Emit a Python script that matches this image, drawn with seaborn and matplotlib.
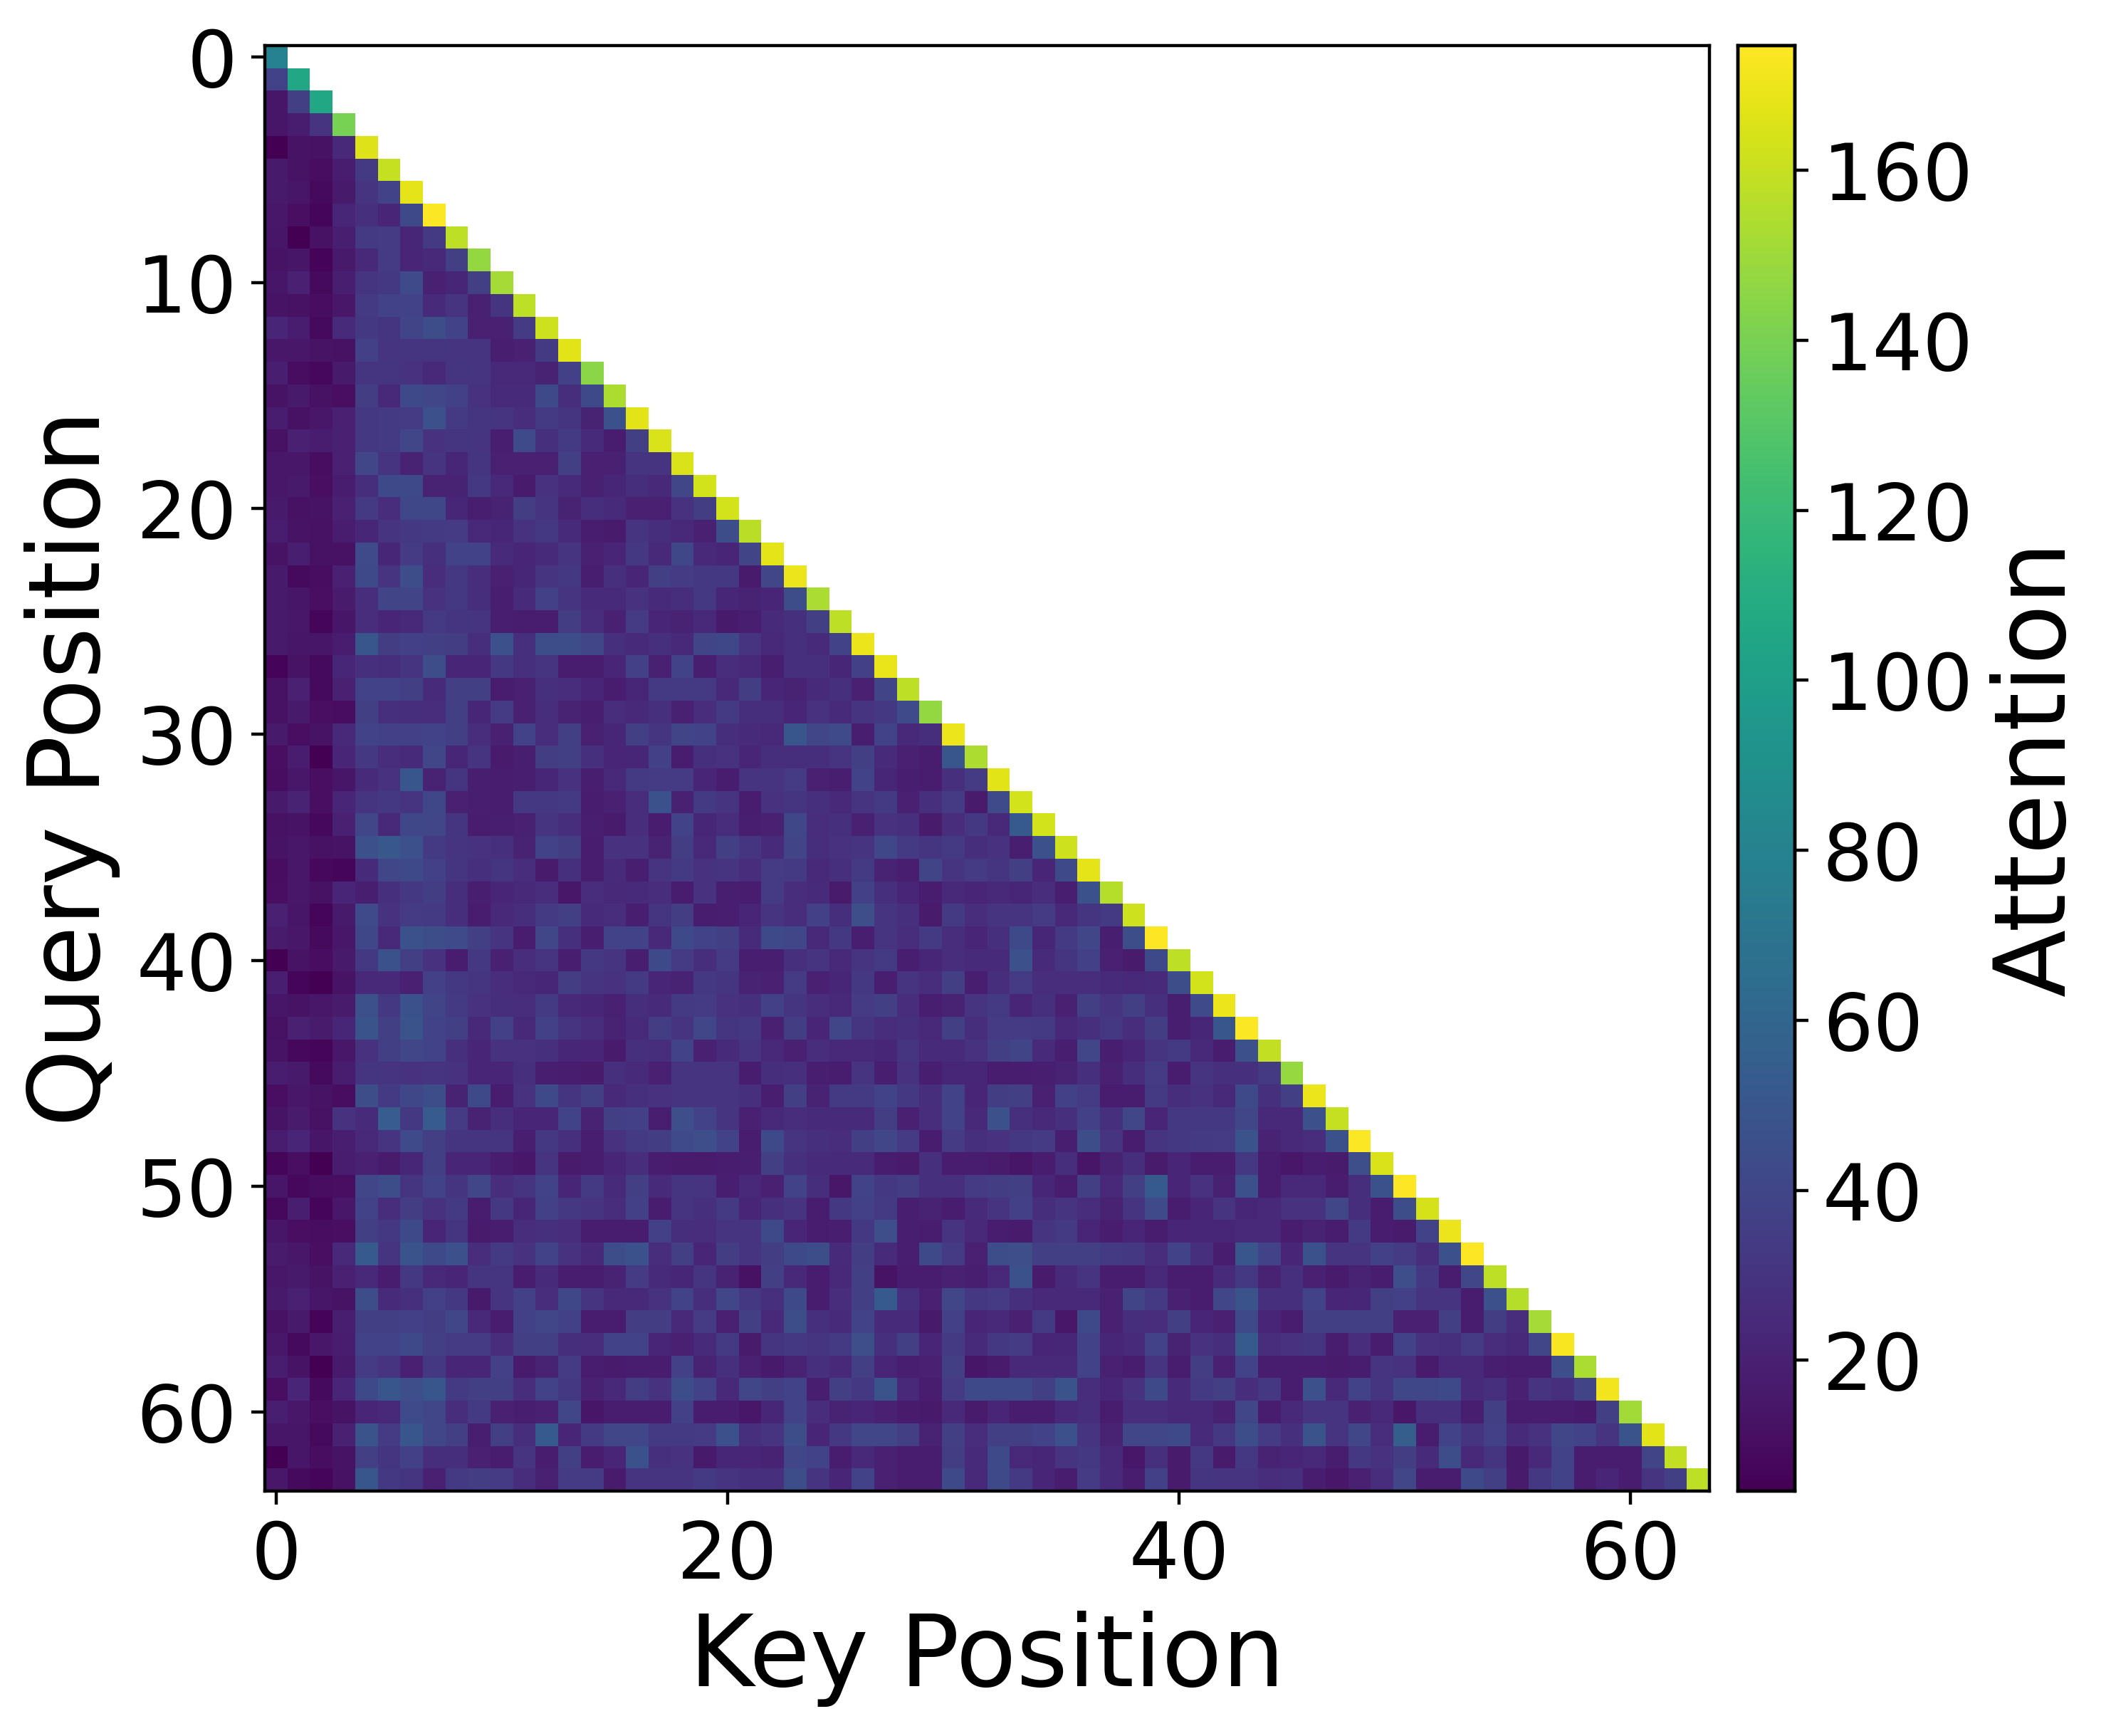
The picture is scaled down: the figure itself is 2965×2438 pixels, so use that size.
import numpy as np
import matplotlib
matplotlib.use("Agg")
import matplotlib.pyplot as plt
import seaborn as sns

x_ticks = [0, 20, 40, 60]
y_ticks = [0, 10, 20, 30, 40, 50, 60]
cbar_ticks = [20, 40, 60, 80, 100, 120, 140, 160]
x_label = "Key Position"
y_label = "Query Position"
cbar_label = "Attention"

rows = [
 [80],
 [38,106],
 [14,36,106],
 [14,18,30,140],
 [5,13,12,24,166],
 [16,13,10,18,33,160],
 [16,14,9,16,30,38,168],
 [15,11,7,23,28,22,42,174],
 [14,5,12,19,33,34,23,33,158],
 [13,14,6,16,24,34,22,24,36,147],
 [14,20,9,19,31,32,43,20,23,36,152],
 [13,12,10,15,33,38,38,25,30,20,31,158],
 [22,18,9,25,32,31,39,44,38,20,20,34,162],
 [15,15,13,12,37,30,31,31,30,30,19,20,33,167],
 [19,10,8,16,31,31,29,24,31,30,24,24,21,37,145],
 [13,16,12,11,35,24,42,40,37,29,25,25,42,27,42,154],
 [18,12,15,20,32,33,34,46,33,31,30,26,33,31,21,47,167],
 [12,20,18,20,32,33,40,29,31,30,19,43,28,33,25,18,36,165],
 [15,15,10,20,40,30,21,30,23,31,20,20,20,36,20,20,30,30,165],
 [15,16,11,18,27,42,42,21,21,32,24,17,29,25,20,23,27,24,40,163],
 [16,12,13,20,33,26,41,41,23,19,21,35,30,21,27,25,20,20,29,35,163],
 [18,13,12,18,23,30,32,33,34,24,23,29,32,25,18,17,30,27,24,20,44,157],
 [13,19,12,12,43,23,34,28,38,38,25,22,25,30,20,22,32,24,41,24,22,39,168],
 [16,9,10,20,42,30,44,26,32,26,20,23,30,32,19,28,22,36,34,32,32,17,40,170],
 [16,14,11,17,26,39,39,29,32,27,19,25,37,30,25,25,29,25,27,32,23,21,22,44,153],
 [16,15,7,14,26,22,24,33,31,30,19,18,18,35,26,20,34,22,21,24,16,19,25,28,36,158],
 [16,14,14,18,50,35,37,36,35,27,46,28,44,44,40,28,25,28,24,39,41,30,24,28,25,38,170],
 [6,13,9,23,28,27,30,44,22,22,32,28,30,18,18,22,37,20,38,19,26,24,19,28,28,23,37,169],
 [12,20,9,20,38,38,36,25,36,36,18,20,28,26,22,18,23,33,33,33,24,35,22,21,25,28,20,39,158],
 [12,16,11,10,36,28,27,26,36,23,34,20,27,21,19,26,24,28,20,26,33,27,27,22,29,25,30,32,43,147],
 [16,11,13,24,38,37,37,38,36,26,20,38,26,36,20,23,36,31,39,38,27,25,24,50,40,43,19,38,24,27,170],
 [11,18,4,22,32,26,25,40,23,30,17,19,35,36,28,22,23,37,18,28,29,22,27,27,27,30,36,25,20,18,50,154],
 [10,15,11,14,25,29,50,21,31,19,18,19,23,29,19,24,33,34,34,22,18,30,30,34,20,19,38,23,19,18,28,34,167],
 [16,21,11,22,31,32,30,41,20,19,18,32,32,33,18,20,26,47,20,33,30,18,29,31,28,24,30,33,20,28,34,17,43,163],
 [12,13,8,20,40,24,41,40,31,18,19,20,30,27,19,17,26,18,38,23,26,19,20,41,26,28,20,29,28,17,26,32,24,52,163],
 [13,15,12,13,46,51,46,33,30,29,28,21,38,35,18,29,29,21,35,24,36,31,25,39,27,29,30,41,33,31,33,27,29,19,46,162],
 [10,15,8,7,25,40,42,37,31,28,31,26,17,28,18,25,19,30,33,29,30,26,34,33,24,28,33,21,19,39,30,34,31,36,22,42,168],
 [11,15,12,22,19,28,32,35,27,19,22,24,26,15,26,24,25,26,18,29,19,18,34,26,25,17,37,28,22,18,24,22,24,23,26,19,47,156],
 [20,14,7,16,43,29,34,33,27,18,24,27,33,36,25,26,19,31,35,18,19,22,30,26,37,27,45,30,28,17,33,26,30,30,34,24,31,33,162],
 [17,15,9,15,41,24,47,44,43,36,30,18,40,28,19,38,38,24,42,38,36,25,42,40,24,32,19,30,26,33,26,22,28,42,23,33,40,19,44,175],
 [5,13,10,16,32,47,36,29,18,32,20,26,30,19,32,30,19,42,34,27,34,19,19,28,30,24,30,33,19,23,26,25,25,46,25,31,37,20,17,42,158],
 [19,7,5,13,24,24,20,37,32,31,26,24,23,35,30,29,33,22,21,32,31,21,20,34,20,23,32,19,30,26,36,19,27,34,26,26,26,25,24,25,44,163],
 [14,13,15,17,46,32,47,39,33,29,27,26,33,24,23,20,27,25,33,34,29,28,37,31,26,24,34,36,26,19,21,30,33,22,28,20,36,30,36,28,19,43,170],
 [12,20,17,23,48,36,48,38,36,24,37,24,37,30,26,21,25,35,30,40,31,32,20,35,22,40,31,26,28,24,36,27,34,34,33,24,28,32,26,35,19,23,50,174],
 [13,8,7,15,29,36,40,38,28,22,29,29,28,23,22,17,28,27,38,20,25,30,24,20,26,24,24,23,31,25,25,29,36,39,25,19,40,19,22,30,33,24,18,46,159],
 [18,16,9,18,31,30,29,30,29,22,22,28,19,18,17,28,25,20,30,30,30,18,27,28,19,18,30,19,29,19,23,23,18,18,19,21,28,20,27,34,18,30,28,28,33,148],
 [11,15,13,10,44,33,41,44,21,42,18,29,42,31,36,24,28,29,30,30,30,28,19,36,21,33,33,38,32,27,38,22,35,36,20,37,34,18,18,33,27,29,24,42,28,36,170],
 [13,17,12,29,25,54,32,53,34,21,27,22,22,38,21,36,37,19,45,38,30,20,24,26,25,25,25,35,20,26,38,24,46,28,24,28,37,28,40,22,32,32,32,40,24,24,46,160],
 [18,22,14,19,24,30,43,36,31,31,31,19,32,28,19,29,33,35,43,45,38,18,42,30,28,26,36,40,34,18,34,28,29,32,34,19,44,30,18,30,32,33,34,48,21,24,26,47,174],
 [7,11,4,18,20,17,23,36,22,22,18,15,30,17,18,22,26,18,17,17,18,19,36,28,25,25,25,18,17,28,18,18,17,14,18,27,14,21,27,17,22,18,18,32,18,15,18,17,45,165],
 [14,8,10,11,40,44,31,38,31,40,26,30,38,22,33,25,36,25,31,30,19,24,20,38,27,15,38,32,35,28,28,34,35,36,23,18,36,24,36,52,22,29,20,46,18,24,24,18,27,47,175],
 [8,19,7,15,38,26,35,29,33,18,32,23,37,32,30,26,37,18,30,28,33,22,28,30,18,32,37,33,19,21,18,25,30,37,27,30,26,21,30,43,18,22,30,23,24,29,29,40,27,18,44,164],
 [14,11,10,11,36,32,42,22,31,17,18,26,28,26,18,18,18,37,27,26,30,30,42,22,18,19,32,45,19,18,30,24,18,17,30,33,22,18,22,18,22,23,23,24,24,18,21,18,33,18,17,38,170],
 [17,15,11,24,52,30,48,42,46,26,33,29,38,29,24,44,47,26,36,22,35,30,35,42,44,25,35,25,19,42,34,20,44,45,36,36,36,33,32,26,38,28,18,50,38,22,47,30,30,37,34,26,46,175],
 [15,16,13,20,24,18,32,24,22,31,31,18,25,18,18,21,34,25,23,31,21,12,36,24,18,24,36,13,18,18,20,19,24,47,17,25,30,18,18,24,18,18,25,32,21,28,20,17,21,18,45,32,18,40,158],
 [16,20,14,13,44,25,28,37,32,16,30,37,26,41,30,24,24,29,38,27,40,32,28,42,18,26,36,52,28,20,40,32,34,28,24,24,24,20,39,33,20,18,40,48,28,28,38,22,23,36,37,30,30,18,46,156],
 [12,16,6,19,36,36,37,35,40,24,18,37,40,37,18,18,35,35,24,34,20,36,24,44,28,25,38,25,25,16,37,22,24,20,33,15,42,20,27,26,36,22,20,42,22,18,36,36,36,36,20,20,36,18,35,26,152],
 [15,9,15,18,38,38,42,36,34,34,26,36,36,27,26,38,38,22,20,25,33,17,31,32,31,33,45,28,36,22,33,25,32,34,22,23,38,23,25,38,21,29,27,52,26,29,31,18,26,18,38,29,28,34,26,24,40,173],
 [18,13,4,16,34,30,20,32,22,22,37,17,21,34,18,17,18,18,37,21,28,20,16,21,28,24,36,22,19,20,36,14,17,24,24,24,38,20,18,30,18,35,20,38,18,18,18,17,18,30,29,17,24,24,19,18,18,45,153],
 [11,22,9,22,42,50,45,50,33,36,36,26,38,32,20,24,35,29,44,38,24,40,36,38,19,36,32,48,24,18,34,42,42,42,36,48,26,22,29,42,25,33,36,26,32,18,46,24,38,31,41,41,42,25,28,20,30,28,39,171],
 [19,15,11,13,22,24,43,40,26,33,20,19,20,40,14,18,18,18,37,18,18,15,23,38,26,21,22,20,17,16,24,17,22,18,18,24,27,18,26,26,24,24,20,40,18,24,30,30,20,24,15,28,28,19,36,18,18,18,16,36,151],
 [14,14,9,20,48,34,50,40,36,19,36,27,52,22,33,40,40,33,33,34,46,28,30,44,22,32,40,40,36,21,36,26,36,36,38,46,30,21,40,40,42,25,32,44,34,28,48,30,40,26,55,18,38,31,37,25,29,40,38,30,48,167],
 [5,14,10,13,36,31,37,27,27,20,18,30,18,36,18,22,47,28,29,16,23,22,21,40,38,18,24,20,18,18,35,25,42,24,23,30,32,24,15,28,17,32,17,32,21,22,24,18,32,29,35,25,44,24,31,16,24,38,18,18,18,39,159],
 [15,9,7,12,50,32,31,20,33,35,34,26,20,34,34,17,30,30,30,33,30,28,28,44,30,22,38,20,18,18,42,24,42,33,22,18,34,25,18,37,17,31,30,30,26,28,18,15,20,26,40,18,18,42,36,17,32,38,18,22,18,30,36,158],
]

bad = [(i, len(r)) for i, r in enumerate(rows) if len(r) != i + 1]
if bad:
    raise ValueError(f"row length mismatch: {bad}")

n = len(rows)
matrix = np.full((n, n), np.nan)
for i, r in enumerate(rows):
    matrix[i, :len(r)] = r

W, H, dpi = 2965, 2438, 400
sns.set_theme(style="white")
plt.rcParams["font.family"] = ["DejaVu Sans"]
plt.rcParams.update({"xtick.bottom": True, "ytick.left": True})
fig = plt.figure(figsize=(W / dpi, H / dpi), dpi=dpi, facecolor="white")
ax = fig.add_axes([372 / W, (H - 2094) / H, 2029 / W, 2030 / H])
cax = fig.add_axes([2441 / W, (H - 2094) / H, 80 / W, 2030 / H])

sns.heatmap(matrix, ax=ax, cbar_ax=cax, cmap="viridis", vmin=4.6, vmax=174.7,
            mask=np.isnan(matrix), square=False, xticklabels=False, yticklabels=False,
            linewidths=0, cbar_kws={"ticks": cbar_ticks})

ax.set_xticks(np.array(x_ticks) + 0.5, labels=[str(v) for v in x_ticks])
ax.set_yticks(np.array(y_ticks) + 0.5, labels=[str(v) for v in y_ticks], rotation=0)
ax.tick_params(axis="both", labelsize=20, length=3.5, width=0.8, color="black", labelcolor="black", pad=3.5)
ax.set_xlabel(x_label, fontsize=25, color="black", labelpad=4)
ax.set_ylabel(y_label, fontsize=25, color="black", labelpad=4)
for s in ax.spines.values():
    s.set_visible(True)
    s.set_color("black")
    s.set_linewidth(0.8)

cax.tick_params(axis="y", labelsize=20, right=True, left=False, length=3.5, width=0.8, color="black", labelcolor="black", pad=3.5)
cax.set_ylabel(cbar_label, fontsize=25, color="black", labelpad=4)
for s in cax.spines.values():
    s.set_visible(True)
    s.set_color("black")
    s.set_linewidth(0.8)

fig.savefig("out.png", dpi=dpi, facecolor="white")
